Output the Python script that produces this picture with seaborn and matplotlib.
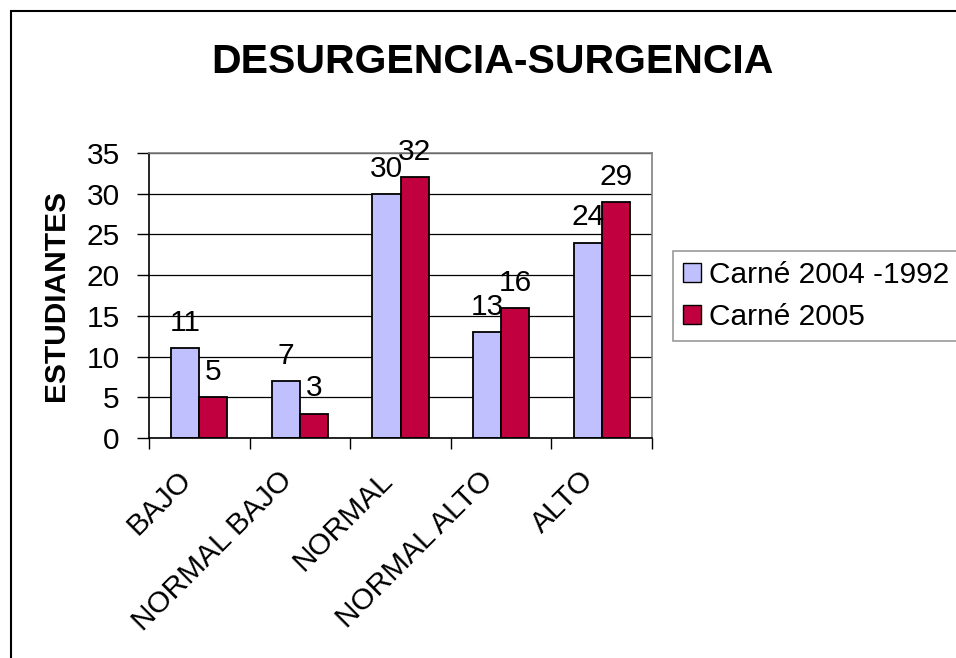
import pandas as pd
import matplotlib.pyplot as plt
import matplotlib.transforms as mtransforms
import seaborn as sns
from matplotlib.patches import Rectangle

categorias = ['BAJO', 'NORMAL BAJO', 'NORMAL', 'NORMAL ALTO', 'ALTO']
carne_2004_1992 = [11, 7, 30, 13, 24]
carne_2005 = [5, 3, 32, 16, 29]
series = ['Carné 2004 -1992', 'Carné 2005']
colores = ['#C0C0FF', '#C0003F']

df = pd.DataFrame({
    'categoria': categorias * 2,
    'valor': carne_2004_1992 + carne_2005,
    'serie': [series[0]] * len(categorias) + [series[1]] * len(categorias),
})

sns.set_style('white')
plt.rcParams['font.family'] = ['Liberation Sans', 'DejaVu Sans']
plt.rcParams['text.color'] = 'black'
plt.rcParams['xtick.color'] = 'black'
plt.rcParams['ytick.color'] = 'black'
plt.rcParams['axes.labelcolor'] = 'black'

fig = plt.figure(figsize=(9.56, 6.58), dpi=100)
ax = fig.add_axes([149 / 956, 1 - 438 / 658, 503 / 956, 285 / 658])

sns.barplot(data=df, x='categoria', y='valor', hue='serie', palette=colores,
            width=0.56, gap=0, edgecolor='black', linewidth=1.3,
            saturation=1, ax=ax, legend=True)

for cont in ax.containers:
    ax.bar_label(cont, fontsize=21.5, padding=8, color='black')

ax.set_xlim(-0.5, len(categorias) - 0.5)
ax.set_ylim(0, 35)
ax.set_yticks(range(0, 36, 5))
ax.yaxis.grid(True, color='black', linewidth=0.9)
ax.set_axisbelow(True)
ax.set_xlabel('')
ax.set_ylabel('')

ax.tick_params(axis='y', labelsize=21.5, length=9, width=1, direction='out',
               left=True, pad=12, color='black')
ax.set_xticks(range(len(categorias)))
ax.set_xticklabels(categorias, rotation=45, ha='right', rotation_mode='anchor',
                   fontsize=21.5)
ax.tick_params(axis='x', length=0, pad=20)
ax.set_xticks([i - 0.5 for i in range(len(categorias) + 1)], minor=True)
ax.tick_params(axis='x', which='minor', length=8, width=1, direction='out',
               bottom=True, color='black')
shift = mtransforms.ScaledTranslation(-22 / 100, 0, fig.dpi_scale_trans)
for lab in ax.get_xticklabels():
    lab.set_transform(lab.get_transform() + shift)

for s in ['left', 'bottom']:
    ax.spines[s].set_color('black')
    ax.spines[s].set_linewidth(1.2)
for s in ['top', 'right']:
    ax.spines[s].set_color('#808080')
    ax.spines[s].set_linewidth(1.2)

handles, labels = ax.get_legend_handles_labels()
ax.get_legend().remove()
leg = fig.legend(handles, labels, loc='upper left',
                 bbox_to_anchor=(673 / 956, 1 - 251 / 658), borderaxespad=0,
                 fontsize=21.5, frameon=True, fancybox=False,
                 handlelength=0.6, handleheight=0.6, handletextpad=0.25,
                 labelspacing=0.45, borderpad=0.35)
leg.get_frame().set_edgecolor('#808080')
leg.get_frame().set_linewidth(1.2)
for h in leg.legend_handles:
    h.set_edgecolor('black')
    h.set_linewidth(1.0)

fig.text(0.515, 1 - 62 / 658, 'DESURGENCIA-SURGENCIA', ha='center', va='center',
         fontsize=29.5, fontweight='bold')
fig.text(56 / 956, 1 - 296 / 658, 'ESTUDIANTES', ha='center', va='center',
         rotation=90, fontsize=21.5, fontweight='bold')

fig.add_artist(Rectangle((10.5 / 956, -0.1), 1.5, 0.1 + 1 - 11.5 / 658,
                         transform=fig.transFigure, fill=False,
                         edgecolor='black', linewidth=1.5))

fig.savefig('out.png', dpi=100)
